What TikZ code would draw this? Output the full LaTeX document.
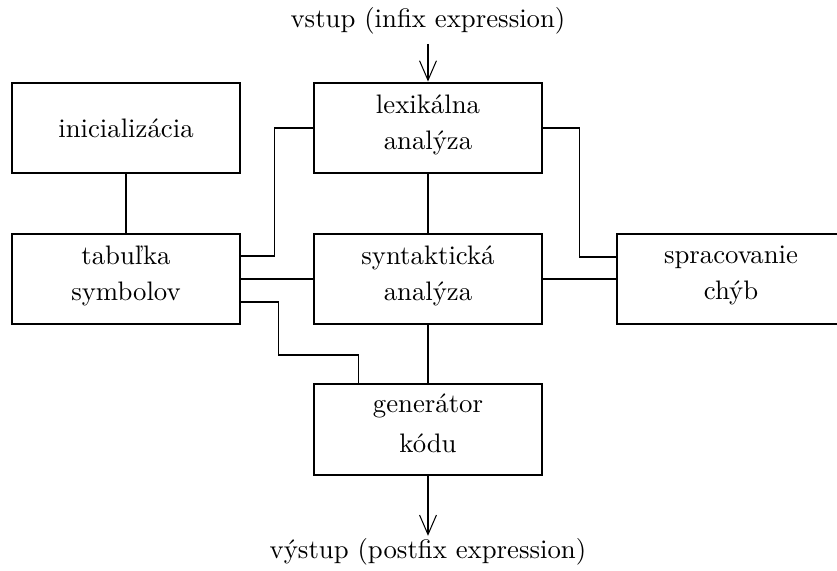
\documentclass[tikz,border=0pt]{standalone}
\usetikzlibrary{arrows.meta,calc}
\begin{document}
\begin{tikzpicture}[x=0.385pt,y=-0.385pt,
  font=\fontsize{10.3}{13.86}\selectfont,
  box/.style={draw,line width=0.8pt,minimum width=87.8pt,minimum height=35pt,
    inner sep=0pt,align=center},
  block/.style={box,
    execute at begin node={\rule{0pt}{7.2pt}},
    execute at end node={\rule[-4.5pt]{0pt}{4.5pt}}},
  link/.style={line width=0.4pt},
  flow/.style={line width=0.4pt,-{Straight Barb[length=7.5pt,width=6.5pt]}}]
\useasboundingbox (0,0) rectangle (837,571);

% processing stages
\node[box]   (ini)  at (126,128)   {inicializácia};
\node[block] (lex)  at (428,128)   {lexikálna\\analýza};
\node[block] (tab)  at (126,279)   {tabuľka\\symbolov};
\node[block] (syn)  at (428,279)   {syntaktická\\analýza};
\node[block] (chyb) at (731,279)   {spracovanie\\chýb};
\node[block] (gen)  at (428,429.5) {generátor\\[1.54pt]kódu};

% input and output
\node[anchor=base] (in) at (428,28) {vstup (infix expression)};
\node[anchor=base,inner sep=1pt] (out) at (428,559) {výstup (postfix expression)};

\draw[flow] (in) -- (lex);
\draw[flow] (gen) -- (out);

% straight links
\draw[link] (ini) -- (tab);
\draw[link] (lex) -- (syn);
\draw[link] (syn) -- (gen);
\draw[link] (tab) -- (syn);
\draw[link] (syn) -- (chyb);

% routed links
\draw[link] (lex.west) -- ++(-38,0) |- ($(tab.east)+(0,-23)$);
\draw[link] ($(tab.east)+(0,23)$) -- ++(37,0) -- ++(0,53) -| ($(gen.north west)+(46,0)$);
\draw[link] (lex.east) -- ++(36,0) |- ($(chyb.west)+(0,-22)$);
\end{tikzpicture}
\end{document}
